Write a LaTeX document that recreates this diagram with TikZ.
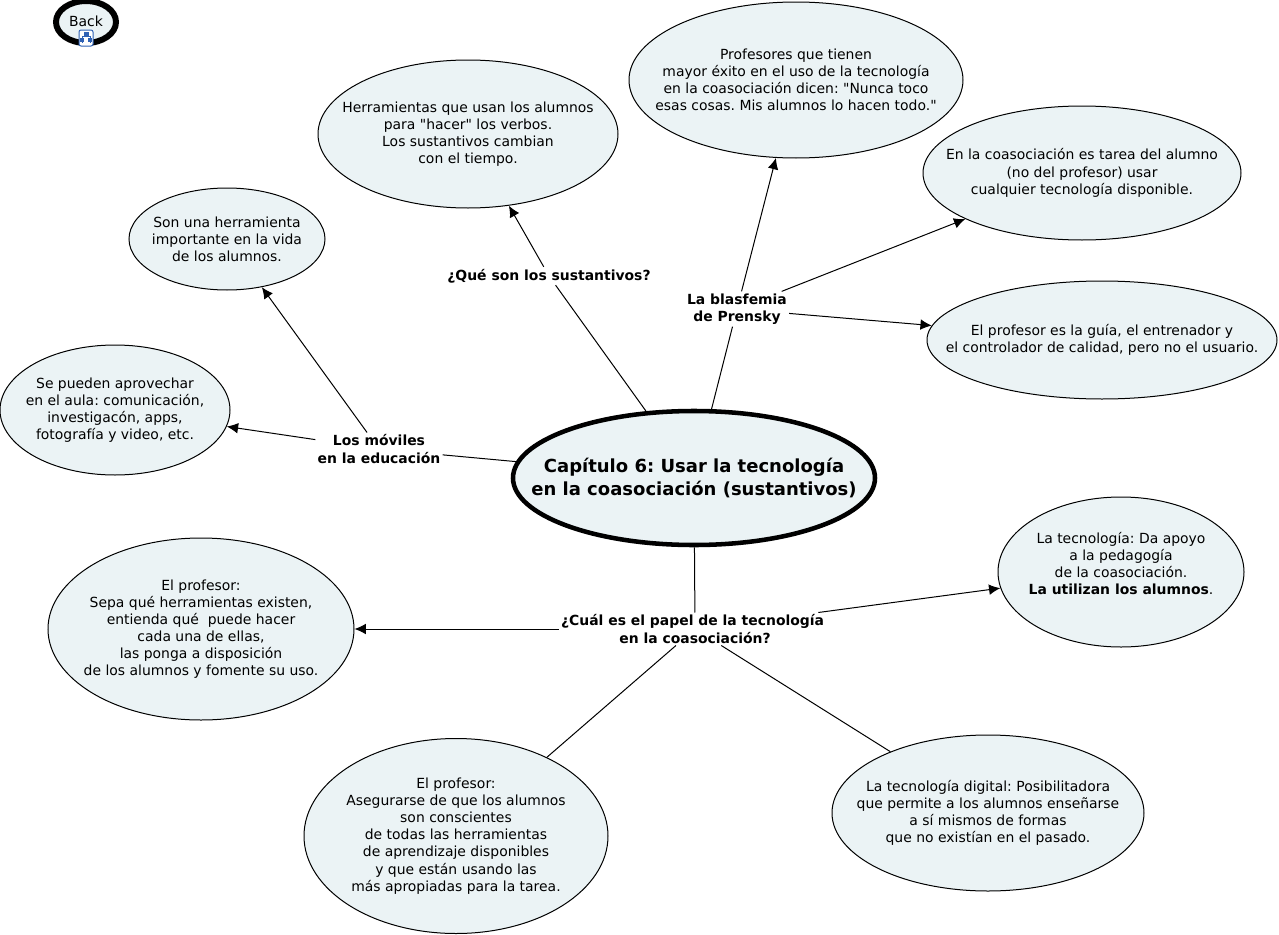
\documentclass[tikz,border=0pt]{standalone}
\usepackage{fontspec}
\setmainfont{DejaVu Sans}[Ligatures=TeXOff]
\usepackage{xcolor}
\usetikzlibrary{arrows.meta,shapes.geometric}
\definecolor{bubblefill}{HTML}{EBF3F5}
\definecolor{iconblue}{HTML}{2F62B5}
\frenchspacing
\tikzset{
  bubble/.style={ellipse, draw, fill=bubblefill, line width=0.75pt, inner sep=-110pt, align=center, font=\fontsize{10.45}{12.85}\selectfont},
  topic/.style={inner sep=1.5pt, align=center, font=\fontsize{10.45}{12.85}\selectfont\bfseries},
  link/.style={line width=0.75pt},
  linkto/.style={line width=0.75pt, -{Latex[length=8.5pt,width=8pt]}}
}
\begin{document}
\begin{tikzpicture}[x=0.75pt,y=-0.75pt]
\useasboundingbox (0,0) rectangle (1279,935);
\node[bubble, minimum width=300*0.75pt, minimum height=148*0.75pt] (sustantivos) at (468,134) {Herramientas que usan los alumnos\\para "hacer" los verbos.\\Los sustantivos cambian\\con el tiempo.};
\node[bubble, minimum width=334*0.75pt, minimum height=156*0.75pt] (profesores) at (796,80) {Profesores que tienen\\mayor éxito en el uso de la tecnología\\en la coasociación dicen: "Nunca toco\\esas cosas. Mis alumnos lo hacen todo."};
\node[bubble, minimum width=318*0.75pt, minimum height=134*0.75pt] (tarea) at (1082,173) {En la coasociación es tarea del alumno\\(no del profesor) usar\\cualquier tecnología disponible.};
\node[bubble, minimum width=350*0.75pt, minimum height=118*0.75pt] (guia) at (1102,340) {El profesor es la guía, el entrenador y\\el controlador de calidad, pero no el usuario.};
\node[bubble, minimum width=196*0.75pt, minimum height=102*0.75pt] (herramienta) at (227,239) {Son una herramienta\\importante en la vida\\de los alumnos.};
\node[bubble, minimum width=230*0.75pt, minimum height=130*0.75pt] (aula) at (115,410) {Se pueden aprovechar\\en el aula: comunicación,\\investigacón, apps,\\fotografía y video, etc.};
\node[bubble, minimum width=246*0.75pt, minimum height=150*0.75pt] (apoyo) at (1121,572) {La tecnología: Da apoyo\\a la pedagogía\\de la coasociación.\\\textbf{La utilizan los alumnos}.\\\mbox{}};
\node[bubble, minimum width=306*0.75pt, minimum height=182*0.75pt] (saber) at (201,629) {El profesor:\\Sepa qué herramientas existen,\\entienda qué\ \ puede hacer\\cada una de ellas,\\las ponga a disposición\\de los alumnos y fomente su uso.};
\node[bubble, minimum width=304*0.75pt, minimum height=195*0.75pt] (asegurar) at (456,836) {El profesor:\\Asegurarse de que los alumnos\\son conscientes\\de todas las herramientas\\de aprendizaje disponibles\\y que están usando las\\más apropiadas para la tarea.};
\node[bubble, minimum width=312*0.75pt, minimum height=156*0.75pt] (digital) at (988,813) {La tecnología digital: Posibilitadora\\que permite a los alumnos enseñarse\\a sí mismos de formas\\que no existían en el pasado.};
\node[bubble, line width=3.4pt, minimum width=362*0.75pt, minimum height=134*0.75pt, font=\fontsize{13.5}{17.3}\selectfont\bfseries] (capitulo) at (694,478) {Capítulo 6: Usar la tecnología\\en la coasociación (sustantivos)};
\node[topic] (que) at (549,276) {¿Qué son los sustantivos?};
\node[topic] (blasfemia) at (737,309) {La blasfemia\\de Prensky};
\node[topic] (moviles) at (379,449) {Los móviles\\en la educación};
\node[topic] (papel) at (695,629) {¿Cuál es el papel de la tecnología\hspace*{0.35em}\\en la coasociación?};
\draw[link] (capitulo) -- (que);
\draw[link] (capitulo) -- (blasfemia);
\draw[link] (capitulo) -- (moviles);
\draw[link] (capitulo) -- (papel);
\draw[linkto] (que) -- (sustantivos);
\draw[linkto] (blasfemia) -- (profesores);
\draw[linkto] (blasfemia) -- (tarea);
\draw[linkto] (blasfemia) -- (guia);
\draw[linkto] (moviles) -- (herramienta);
\draw[linkto] (moviles) -- (aula);
\draw[linkto] (papel) -- (apoyo);
\draw[linkto] (papel) -- (saber);
\draw[link] (papel) -- (asegurar);
\draw[link] (papel) -- (digital);
\node[bubble, line width=4.5pt, minimum width=60*0.75pt, minimum height=42*0.75pt] (back) at (86,22) {\raisebox{1.5pt}{Back}};
\begin{scope}[shift={(86,38)}]
  \draw[iconblue, fill=white, rounded corners=1.5pt, line width=0.75pt] (-7,-8) rectangle (7,8);
  \draw[iconblue, fill=iconblue] (-2,-6) rectangle (2,-3);
  \draw[iconblue, fill=iconblue] (-5.5,0) rectangle (-2.5,3);
  \draw[iconblue, fill=iconblue] (2.5,0) rectangle (5.5,3);
  \draw[iconblue, line width=0.5pt] (0,-3) -- (0,-1.5) (-4,0) -- (-4,-1.5) -- (4,-1.5) -- (4,0) (-4,3) -- (-4,5) (4,3) -- (4,5);
\end{scope}
\end{tikzpicture}
\end{document}
